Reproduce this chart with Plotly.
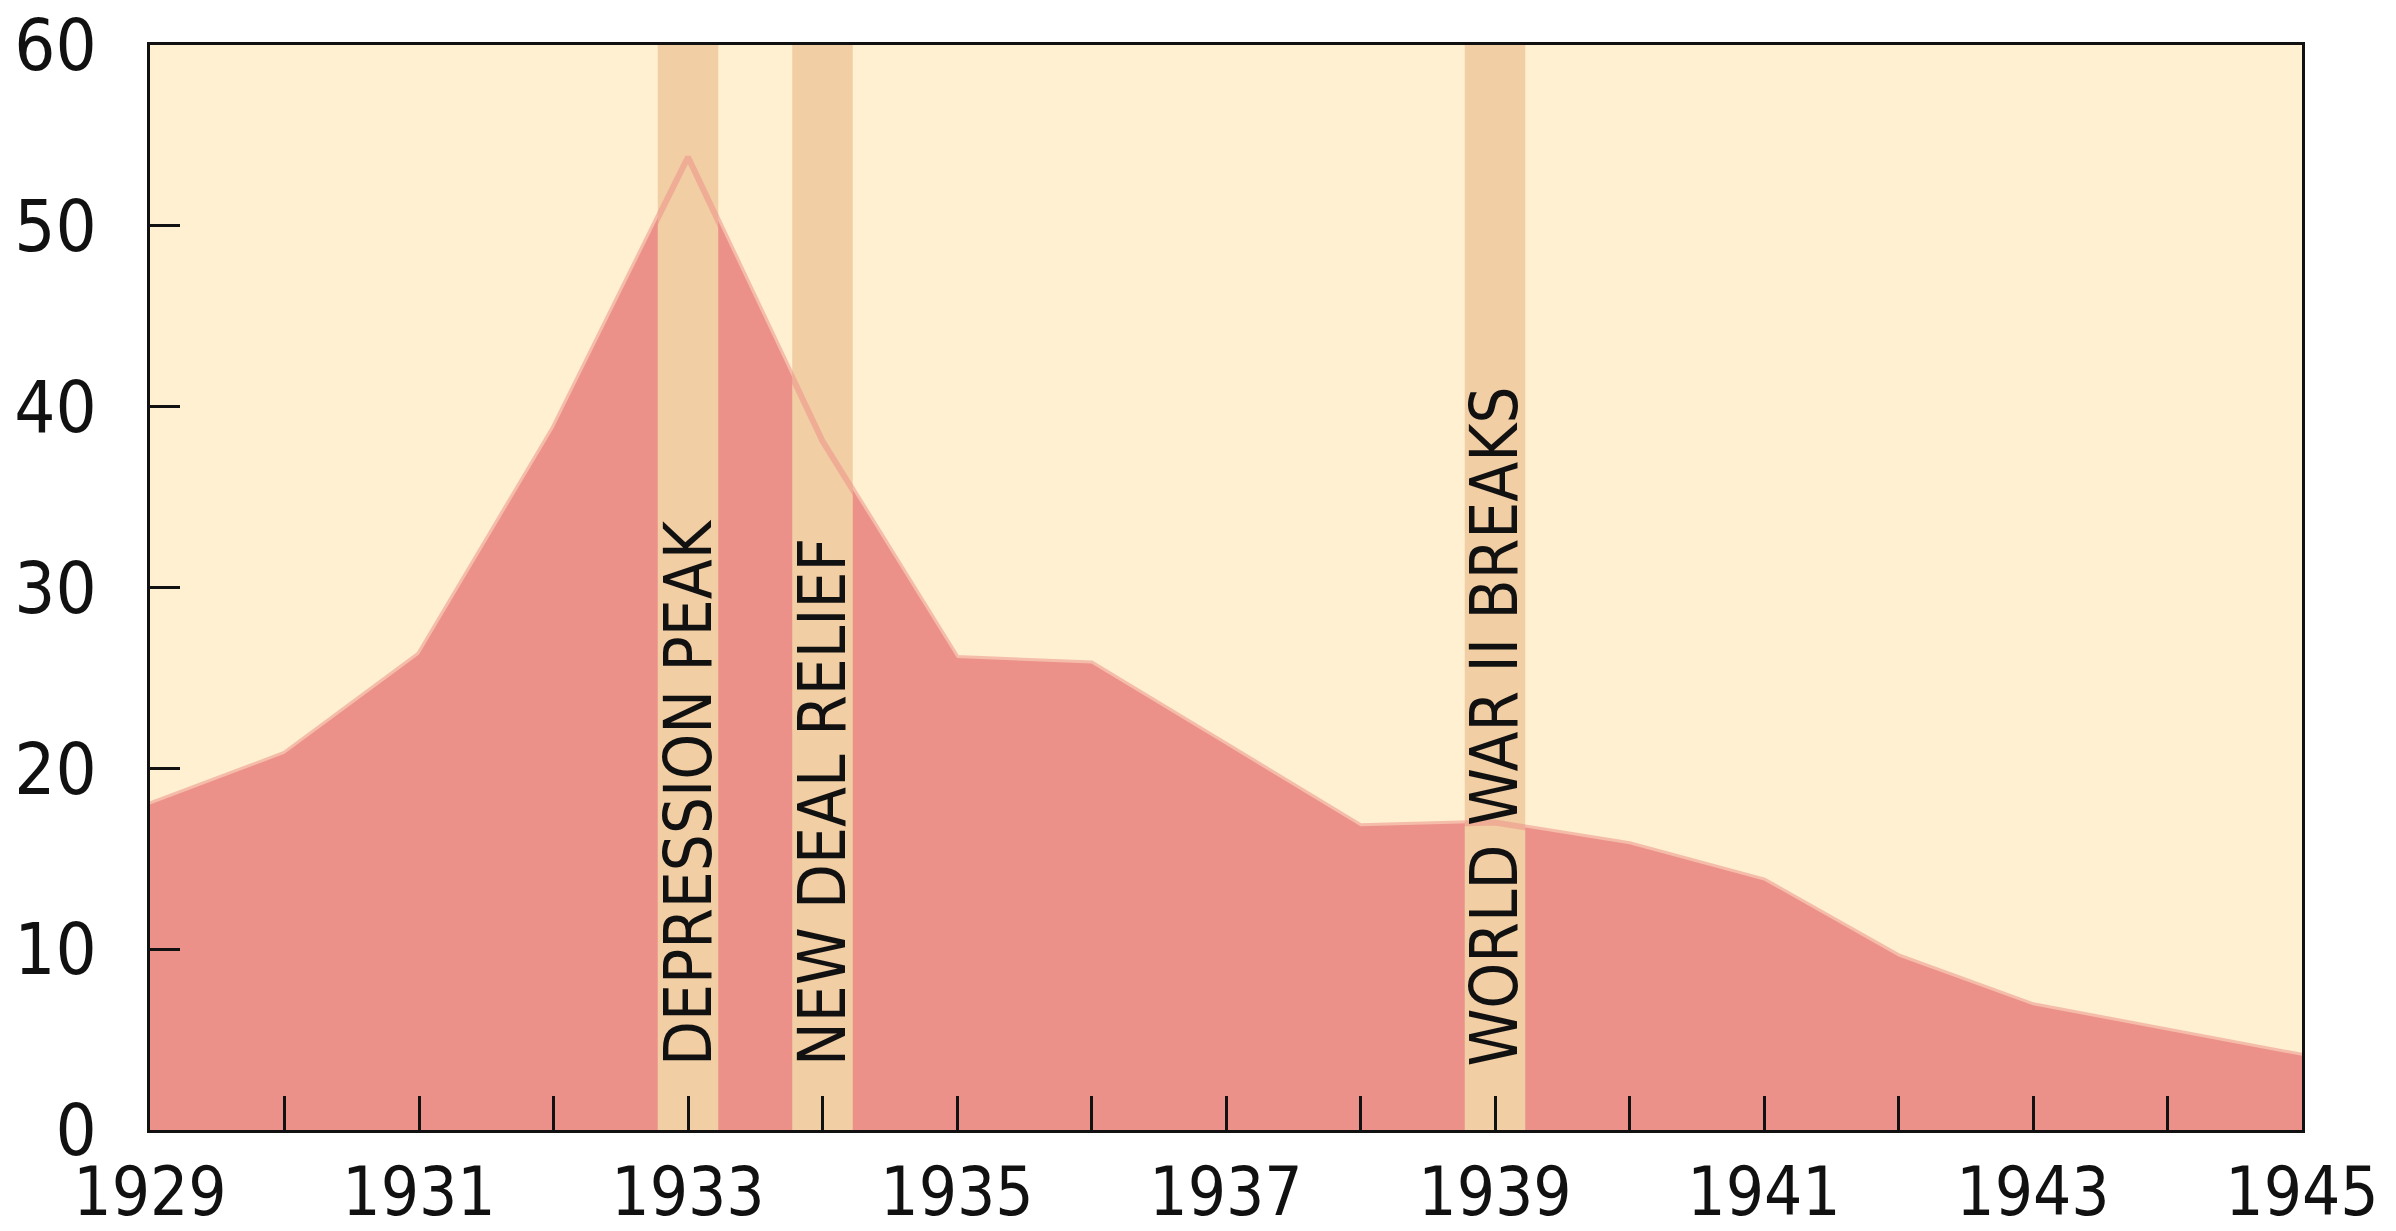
import plotly.graph_objects as go

years = list(range(1929, 1946))
values = [18.0, 20.8, 26.3, 38.8, 53.8, 38.1, 26.1, 25.8, 21.3, 16.8, 17.0,
          15.8, 13.8, 9.6, 6.9, 5.5, 4.1]

band_centers = [1933, 1934, 1939]
band_labels = ["DEPRESSION PEAK", "NEW DEAL RELIEF", "WORLD WAR II BREAKS"]
band_half_width = 0.225

y_ticks = [0, 10, 20, 30, 40, 50, 60]
x_label_years = list(range(1929, 1946, 2))

CREAM = "#FEF0D1"
RED = "#EC918A"
TAN = "#F2CEA4"
FONT = "DejaVu Sans Condensed, sans-serif"

fig = go.Figure()

fig.add_trace(go.Scatter(
    x=years, y=values, mode="lines", fill="tozeroy",
    fillcolor=RED, line=dict(width=0, color=RED), hoverinfo="skip",
    showlegend=False,
))

bx, by = [], []
for c in band_centers:
    bx += [c - band_half_width, c + band_half_width, c + band_half_width,
           c - band_half_width, c - band_half_width, None]
    by += [y_ticks[0], y_ticks[0], y_ticks[-1], y_ticks[-1], y_ticks[0], None]
fig.add_trace(go.Scatter(
    x=bx, y=by, mode="lines", fill="toself", fillcolor=TAN,
    line=dict(width=0, color=TAN), hoverinfo="skip", showlegend=False,
))

fig.add_trace(go.Scatter(
    x=years, y=values, mode="lines",
    line=dict(width=6, color="rgba(236,145,138,0.55)"),
    hoverinfo="skip", showlegend=False,
))

for c, t in zip(band_centers, band_labels):
    fig.add_annotation(
        x=c, y=3.4, xref="x", yref="y", text=t, textangle=-90,
        showarrow=False, xanchor="center", yanchor="bottom",
        font=dict(family=FONT, size=65, color="#111"),
    )

x_tickvals = years
x_ticktext = [str(y) if y in x_label_years else "" for y in years]

fig.update_xaxes(
    range=[1929, 1945], tickvals=x_tickvals, ticktext=x_ticktext,
    ticks="inside", ticklen=34, tickwidth=3, tickcolor="#111",
    showline=True, linecolor="#111", linewidth=3, mirror=True,
    showgrid=False, zeroline=False, automargin=False,
    tickfont=dict(family=FONT, size=67, color="#111"),
    ticklabelstandoff=2, ticklabeloverflow="allow",
)
fig.update_yaxes(
    range=[0, 60], tickvals=y_ticks,
    ticks="inside", ticklen=30, tickwidth=3, tickcolor="#111",
    showline=True, linecolor="#111", linewidth=3, mirror=True,
    showgrid=False, zeroline=False, automargin=False,
    tickfont=dict(family=FONT, size=72, color="#111"),
    ticklabelstandoff=36, ticklabeloverflow="allow",
)

# the page body adds an 8px margin, so the figure is sized to fit inside it
fig.update_layout(
    width=2388, height=1223,
    margin=dict(l=142, r=94, t=37, b=101),
    paper_bgcolor="white", plot_bgcolor=CREAM,
    showlegend=False,
)

fig.write_html("out.html")
